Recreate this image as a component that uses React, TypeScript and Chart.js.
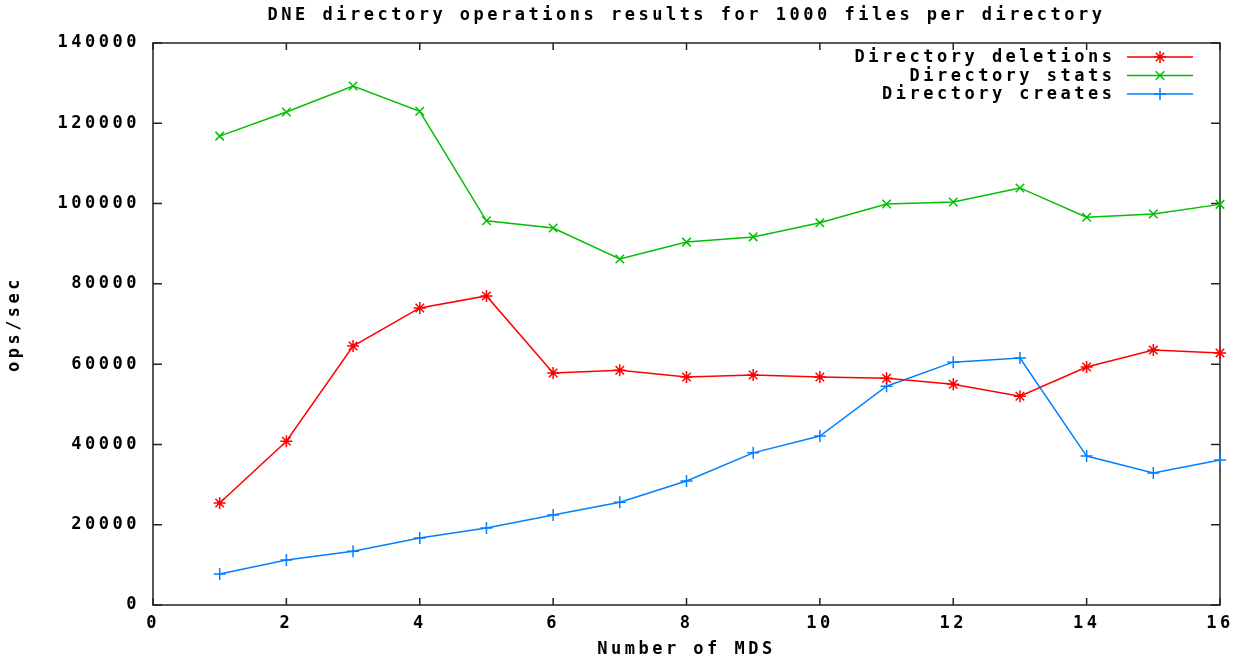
import { useEffect, useRef } from 'react';
import { Chart, registerables } from 'chart.js';

Chart.register(...registerables);

// Number of metadata servers (x values)
const mdsCounts = [1, 2, 3, 4, 5, 6, 7, 8, 9, 10, 11, 12, 13, 14, 15, 16];

// Throughput in operations per second
const deletions = [25400, 40800, 64500, 74000, 77000, 57800, 58500, 56800, 57300, 56800, 56500, 55000, 52000, 59300, 63500, 62800];
const stats = [116800, 122800, 129300, 123000, 95700, 93900, 86200, 90400, 91700, 95200, 99900, 100400, 103900, 96600, 97400, 99800];
const creates = [7700, 11200, 13400, 16700, 19200, 22400, 25600, 30900, 37900, 42100, 54500, 60500, 61500, 37100, 32900, 36100];

const seriesLabels = ['Directory deletions', 'Directory stats', 'Directory creates'];
const seriesColors = ['#ff0000', '#00c000', '#0080ff'];
const seriesMarkers = ['star', 'crossRot', 'cross'];

const titleText = 'DNE directory operations results for 1000 files per directory';
const xTitle = 'Number of MDS';
const yTitle = 'ops/sec';

const FAMILY = '"DejaVu Sans Mono", "Liberation Mono", monospace';
const SPACING = '3.5px';
const font = { family: FAMILY, size: 17, weight: 'bold' as const };

function drawMarker(ctx: CanvasRenderingContext2D, kind: string, x: number, y: number, r: number) {
  ctx.beginPath();
  if (kind === 'cross' || kind === 'star') {
    ctx.moveTo(x - r, y);
    ctx.lineTo(x + r, y);
    ctx.moveTo(x, y - r);
    ctx.lineTo(x, y + r);
  }
  if (kind === 'crossRot' || kind === 'star') {
    const d = r * Math.SQRT1_2;
    ctx.moveTo(x - d, y - d);
    ctx.lineTo(x + d, y + d);
    ctx.moveTo(x - d, y + d);
    ctx.lineTo(x + d, y - d);
  }
  ctx.stroke();
}

// Frame with inward ticks on all four sides, plus a gnuplot-style key
const gnuplotFrame = {
  id: 'gnuplotFrame',
  beforeUpdate(chart: any) {
    chart.ctx.letterSpacing = SPACING;
  },
  beforeDraw(chart: any) {
    const ctx = chart.ctx;
    ctx.letterSpacing = SPACING;
    ctx.save();
    ctx.fillStyle = '#ffffff';
    ctx.fillRect(0, 0, chart.width, chart.height);
    ctx.restore();
  },
  beforeDatasetsDraw(chart: any) {
    const { ctx, chartArea: a, scales } = chart;
    ctx.save();
    ctx.strokeStyle = '#222222';
    ctx.lineWidth = 1.5;
    ctx.strokeRect(a.left, a.top, a.right - a.left, a.bottom - a.top);
    ctx.beginPath();
    for (const t of scales.x.ticks) {
      const px = scales.x.getPixelForValue(t.value);
      ctx.moveTo(px, a.bottom);
      ctx.lineTo(px, a.bottom - 7);
      ctx.moveTo(px, a.top);
      ctx.lineTo(px, a.top + 7);
    }
    for (const t of scales.y.ticks) {
      const py = scales.y.getPixelForValue(t.value);
      ctx.moveTo(a.left, py);
      ctx.lineTo(a.left + 9, py);
      ctx.moveTo(a.right, py);
      ctx.lineTo(a.right - 9, py);
    }
    ctx.stroke();
    ctx.restore();
  },
  afterDraw(chart: any) {
    const { ctx, chartArea: a } = chart;
    ctx.save();
    ctx.letterSpacing = SPACING;
    ctx.font = `bold 17px ${FAMILY}`;
    ctx.textAlign = 'right';
    ctx.textBaseline = 'middle';
    const textRight = a.right - 108;
    const lineStart = a.right - 93;
    const lineEnd = a.right - 27;
    const markX = (lineStart + lineEnd) / 2;
    chart.data.datasets.forEach((ds: any, i: number) => {
      const y = a.top + 14 + i * 18.5;
      ctx.fillStyle = '#000000';
      ctx.fillText(ds.label, textRight + 3.5, y + 1);
      ctx.strokeStyle = ds.borderColor;
      ctx.lineWidth = 1.5;
      ctx.beginPath();
      ctx.moveTo(lineStart, y);
      ctx.lineTo(lineEnd, y);
      ctx.stroke();
      drawMarker(ctx, ds.pointStyle, markX, y, 6);
    });
    ctx.restore();
  },
};

function makeSeries(values: number[], i: number) {
  return {
    label: seriesLabels[i],
    data: mdsCounts.map((x, k) => ({ x, y: values[k] })),
    borderColor: seriesColors[i],
    backgroundColor: seriesColors[i],
    borderWidth: 1.5,
    pointStyle: seriesMarkers[i],
    pointRadius: 6,
    pointBorderWidth: 1.5,
    pointBorderColor: seriesColors[i],
    fill: false,
    tension: 0,
    clip: false as const,
  };
}

export default function App() {
  const canvasRef = useRef<HTMLCanvasElement | null>(null);

  useEffect(() => {
    if (!canvasRef.current) return;
    const chart = new Chart(canvasRef.current, {
      type: 'line',
      data: {
        datasets: [makeSeries(deletions, 0), makeSeries(stats, 1), makeSeries(creates, 2)],
      },
      options: {
        animation: false,
        responsive: false,
        devicePixelRatio: 1,
        layout: { padding: { left: 0, right: 29, top: 0, bottom: 0 } },
        plugins: {
          legend: { display: false },
          tooltip: { enabled: false },
          title: {
            display: true,
            fullSize: false,
            text: titleText,
            color: '#000000',
            font,
            padding: { top: 5, bottom: 17.6 },
          },
        },
        scales: {
          x: {
            type: 'linear',
            min: 0,
            max: 16,
            grid: { display: false, drawTicks: false },
            border: { display: false },
            ticks: { stepSize: 2, padding: 8, color: '#000000', font, maxRotation: 0 },
            title: { display: true, text: xTitle, color: '#000000', font, padding: { top: 0, bottom: 2.5 } },
            afterFit(scale: any) {
              scale.height = 57;
            },
          },
          y: {
            type: 'linear',
            min: 0,
            max: 140000,
            grid: { display: false, drawTicks: false },
            border: { display: false },
            ticks: {
              stepSize: 20000,
              padding: 13,
              color: '#000000',
              font,
              callback: (v: any) => String(v),
            },
            title: { display: true, text: yTitle, color: '#000000', font, padding: { top: 4.5, bottom: 0 } },
            afterFit(scale: any) {
              scale.width = 153;
            },
          },
        },
      },
      plugins: [gnuplotFrame],
    } as any);
    return () => chart.destroy();
  }, []);

  return (
    <div style={{ position: 'absolute', left: 0, top: 0, width: 1249, height: 662, background: '#ffffff' }}>
      <canvas ref={canvasRef} width={1249} height={662} style={{ display: 'block' }} />
    </div>
  );
}
